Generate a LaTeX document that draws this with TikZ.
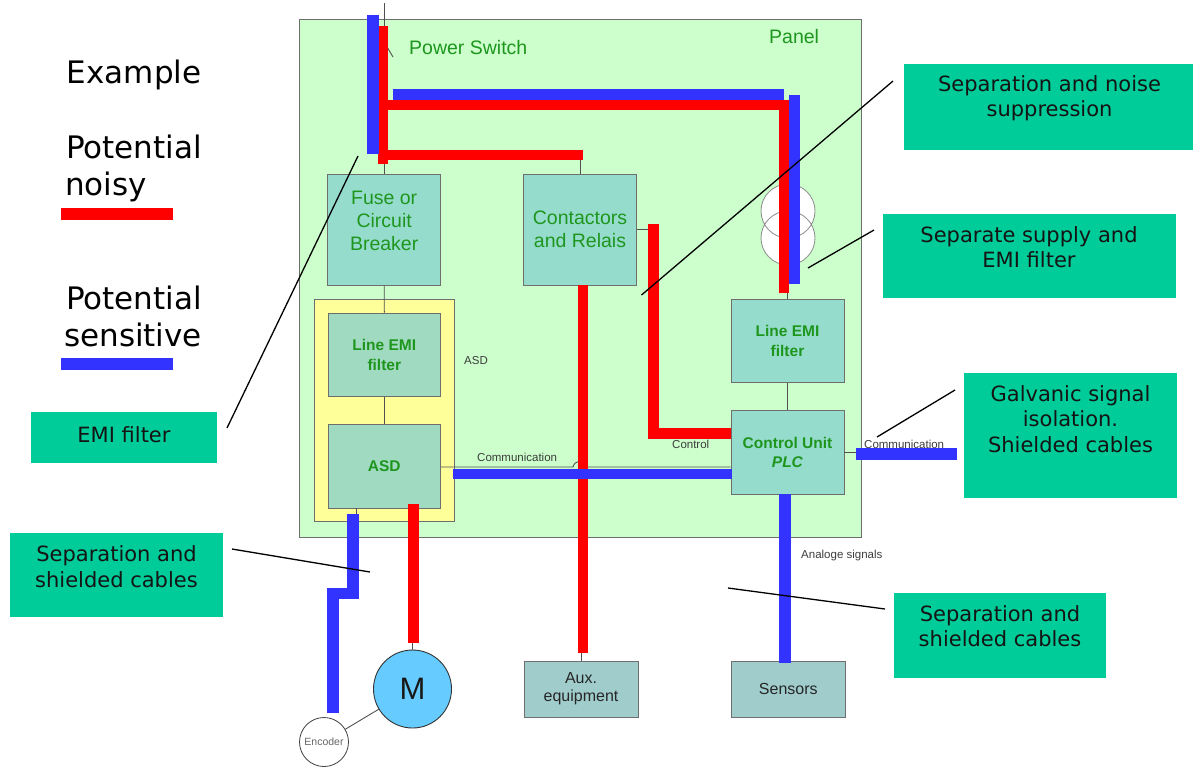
\documentclass[tikz,border=0pt]{standalone}
\usepackage{fontspec}
\setmainfont{Liberation Sans}
\newfontfamily\vfont{DejaVu Sans}
\definecolor{panelg}{RGB}{204,255,204}
\definecolor{boxc}{RGB}{150,220,205}
\definecolor{boxe}{RGB}{160,218,192}
\definecolor{boxg}{RGB}{160,204,204}
\definecolor{yel}{RGB}{255,255,153}
\definecolor{callc}{RGB}{0,204,153}
\definecolor{txtg}{RGB}{30,150,30}
\definecolor{nred}{RGB}{255,0,0}
\definecolor{sblue}{RGB}{51,51,255}
\definecolor{motc}{RGB}{102,204,255}
\definecolor{edgec}{RGB}{110,110,110}
\definecolor{wirec}{RGB}{80,80,80}
\definecolor{smalltxt}{RGB}{60,60,60}
\begin{document}
\begin{tikzpicture}[x=1pt,y=-1pt,
  unitbox/.style={draw=edgec, line width=0.9pt, inner sep=0pt, align=center},
  tealbox/.style={unitbox, fill=boxc, text=txtg, font=\fontsize{19.5}{23}\selectfont},
  filtbox/.style={unitbox, fill=boxe, text=txtg, font=\bfseries\fontsize{15.5}{19.5}\selectfont},
  extbox/.style={unitbox, fill=boxg, text=black!85, font=\fontsize{16}{18}\selectfont},
  callbox/.style={fill=callc, inner sep=0pt},
  calltxt/.style={inner sep=0pt, align=center, text=black!92, font=\vfont\fontsize{21}{25.5}\selectfont},
  legtxt/.style={inner sep=0pt, anchor=base west, text=black, font=\vfont\fontsize{31}{37}\selectfont},
  smalllbl/.style={inner sep=0pt, anchor=west, text=smalltxt, font=\fontsize{11.5}{13}\selectfont},
  greentxt/.style={inner sep=0pt, anchor=base west, text=txtg, font=\fontsize{19.5}{23}\selectfont},
  wire/.style={draw=wirec, line width=0.9pt},
  noisy/.style={draw=nred, line width=10pt, line join=miter},
  sensitive/.style={draw=sblue, line width=11pt, line join=miter},
  callline/.style={draw=black, line width=1.3pt},
  keybar/.style={inner sep=0pt, minimum width=112.5pt, minimum height=12pt}
]
\useasboundingbox (0,0) rectangle (1193,769);

% ---------- panel ----------
\node[draw=edgec, fill=panelg, line width=0.8pt, inner sep=0pt,
      minimum width=562pt, minimum height=518pt] (panel) at (580.5,278) {};
\node[greentxt] (pswitch) at (409,54) {Power Switch};
\node[greentxt] (paneltxt) at (769,43.3) {Panel};

% ASD frame
\node[draw=edgec, fill=yel, line width=0.8pt, inner sep=0pt,
      minimum width=140pt, minimum height=222.4pt] (asdframe) at (384,410.5) {};
\node[smalllbl] (asdlbl) at (464,360.7) {ASD};

% ---------- units ----------
\node[tealbox, minimum width=113pt, minimum height=111pt] (fuse) at (384.2,229.7) {};
\node[inner sep=0pt, align=center, text=txtg, font=\fontsize{19.5}{23}\selectfont] (fusetxt) at (384.2,220.5) {Fuse or\\Circuit\\Breaker};
\node[tealbox, minimum width=112.5pt, minimum height=111pt] (cont) at (580,229.5) {Contactors\\and Relais};
\node[filtbox, minimum width=112.6pt, minimum height=83.7pt] (lemi1) at (384.3,355) {Line EMI\\filter};
\node[filtbox, minimum width=112.6pt, minimum height=84pt] (asd) at (384.3,466) {ASD};
\node[tealbox, font=\bfseries\fontsize{15.5}{19.5}\selectfont, minimum width=113pt, minimum height=83.4pt] (lemi2) at (787.5,341) {Line EMI\\filter};
\node[tealbox, font=\bfseries\fontsize{15.5}{19.5}\selectfont, minimum width=113pt, minimum height=83.3pt] (cu) at (787.5,452.4) {Control Unit\\\textit{PLC}};
\node[extbox, minimum width=114pt, minimum height=56pt] (aux) at (581,689) {Aux.\\equipment};
\node[extbox, minimum width=113.4pt, minimum height=56pt] (sens) at (788.3,689) {Sensors};
\node[circle, draw=black!80, fill=motc, line width=0.9pt, minimum size=78pt, inner sep=0pt,
      font=\fontsize{31}{31}\selectfont, text=black!90] (mot) at (412.5,689) {M};
\node[circle, draw=black!75, fill=white, line width=0.8pt, minimum size=49pt, inner sep=0pt,
      font=\fontsize{10.5}{11}\selectfont, text=black!60] (enc) at (324,742) {Encoder};

% transformer
\fill[white] (788,211) circle[radius=27] (788,238) circle[radius=27];
\draw[draw=black!45, line width=0.8pt] (788,211) circle[radius=27] (788,238) circle[radius=27];

% ---------- thin wires ----------
\draw[wire] (384.3,3) -- (384.3,26);
\draw[wire] (386.5,46) -- (393,57);
\draw[wire] (fuse.north) -- ++(0,-10);
\draw[wire] (fuse.south) -- (lemi1.north);
\draw[wire] (lemi1.south) -- (asd.north);
\draw[wire] (cont.north) -- ++(0,-14);
\draw[wire] (cont.east) -- ++(12,0);
\draw[wire] (lemi2.north) -- ++(0,-7);
\draw[wire] (lemi2.south) -- (cu.north);
\draw[wire] ([yshift=-1pt]asd.east) -- (573,467) .. controls (575,460) and (581,460) .. (583,467) -- (cu.west |- 0,467);
\draw[wire] (cu.east) -- ++(12,0);
\draw[wire] ([xshift=-28pt]asd.south) -- ++(0,6);
\draw[wire] (mot.north) -- ++(0,-8);
\draw[wire] (aux.north) -- ++(0,-9);
\draw[wire] (enc) -- (mot);

% ---------- noisy (red) cables ----------
\draw[noisy] (382.5,26) -- (382.5,164);
\draw[noisy] (382.5,105.3) -- (784.3,105.3) -- (784.3,293);
\draw[noisy] (382.5,154.6) -- (583.4,154.6);
\draw[noisy] (583.4,285) -- (583.4,652.7);
\draw[noisy, line width=10.5pt] (653.3,224) -- (653.3,433.5) -- (731,433.5);
\draw[noisy, line width=11pt] (413.5,504) -- (413.5,643);

% ---------- sensitive (blue) cables ----------
\draw[sensitive, line width=12pt] (372.7,15) -- (372.7,154);
\draw[sensitive] (392.5,94.5) -- (784,94.5);
\draw[sensitive] (794.2,95) -- (794.2,284);
\draw[sensitive, line width=10pt] (452.8,473.8) -- (732,473.8);
\draw[sensitive, line width=11.5pt] (785,494) -- (785,663);
\draw[sensitive, line width=12.5pt] (856,453.8) -- (957,453.8);
\draw[sensitive, line width=11.5pt] (353,514) -- (353,593.5) -- (333,593.5) -- (333,713);

% ---------- small labels ----------
\node[smalllbl] (comm1) at (477,457.7) {Communication};
\node[smalllbl] (ctrl) at (672,444) {Control};
\node[smalllbl] (comm2) at (864,444) {Communication};
\node[smalllbl] (analog) at (801,555.7) {Analoge signals};

% ---------- legend ----------
\node[legtxt] (example) at (66.7,83.3) {Example};
\node[legtxt] (pot1) at (66,158) {Potential};
\node[legtxt] (noisytxt) at (65,195.7) {noisy};
\node[keybar, fill=nred] (redkey) at (117,214) {};
\node[legtxt] (pot2) at (66,309.3) {Potential};
\node[legtxt] (senstxt) at (64,346.7) {sensitive};
\node[keybar, fill=sblue] (bluekey) at (117,364) {};

% ---------- callouts ----------
\node[callbox, minimum width=289pt, minimum height=86pt] (c1) at (1048.5,107) {};
\node[calltxt] (c1t) at (1049.5,98) {Separation and noise\\suppression};
\node[callbox, minimum width=293pt, minimum height=84pt] (c2) at (1029.5,256) {};
\node[calltxt] (c2t) at (1029,247) {Separate supply and\\EMI filter};
\node[callbox, minimum width=213pt, minimum height=125pt] (c3) at (1070.5,435.5) {};
\node[calltxt] (c3t) at (1070.5,419) {Galvanic signal\\isolation.\\Shielded cables};
\node[callbox, minimum width=212pt, minimum height=85pt] (c4) at (1000,635.2) {};
\node[calltxt] (c4t) at (1000,626) {Separation and\\shielded cables};
\node[callbox, minimum width=213pt, minimum height=84pt] (c5) at (116.5,575.3) {};
\node[calltxt] (c5t) at (116.5,566.7) {Separation and\\shielded cables};
\node[callbox, minimum width=186.6pt, minimum height=50.7pt] (c6) at (124,437.3) {};
\node[calltxt] (c6t) at (124,434.5) {EMI filter};

% callout leader lines
\coordinate (l1a) at (227,428);   \coordinate (l1b) at (358,156);
\coordinate (l2a) at (641.5,295); \coordinate (l2b) at (893,81);
\coordinate (l3a) at (808,268);   \coordinate (l3b) at (874,230);
\coordinate (l4a) at (877,437);   \coordinate (l4b) at (955,390);
\coordinate (l5a) at (232,549);   \coordinate (l5b) at (370,572);
\coordinate (l6a) at (728,588);   \coordinate (l6b) at (885,609);
\draw[callline] (l1a) -- (l1b);
\draw[callline] (l2a) -- (l2b);
\draw[callline] (l3a) -- (l3b);
\draw[callline] (l4a) -- (l4b);
\draw[callline] (l5a) -- (l5b);
\draw[callline] (l6a) -- (l6b);
\end{tikzpicture}
\end{document}
